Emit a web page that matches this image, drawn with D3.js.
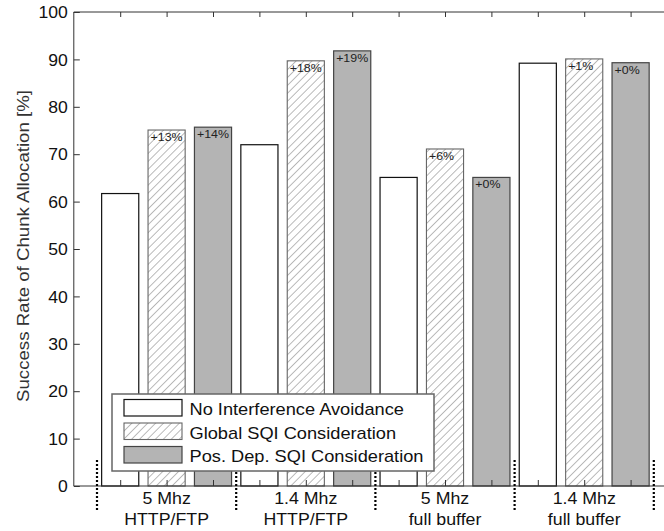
<!DOCTYPE html>
<html>
<head>
<meta charset="utf-8">
<script src="https://cdn.jsdelivr.net/npm/d3@7"></script>
<style>
  html, body { margin: 0; padding: 0; background: #fff; }
  svg { display: block; }
  text { font-family: Arial, "Liberation Sans", Helvetica, sans-serif; }
</style>
</head>
<body>
<svg id="chart" width="664" height="531"></svg>
<script>
// Scenario labels (two lines each)
const bandwidth = ["5 Mhz", "1.4 Mhz", "5 Mhz", "1.4 Mhz"];
const traffic = ["HTTP/FTP", "HTTP/FTP", "full buffer", "full buffer"];

// Allocation strategies
const seriesNames = ["No Interference Avoidance", "Global SQI Consideration", "Pos. Dep. SQI Consideration"];

// Success rate of chunk allocation [%]
const noAvoidance = [61.7, 72.0, 65.1, 89.2];
const globalSQI   = [75.1, 89.7, 71.1, 90.1];
const posDepSQI   = [75.7, 91.8, 65.1, 89.3];

// Gains printed inside the bars
const globalGain = ["+13%", "+18%", "+6%", "+1%"];
const posDepGain = ["+14%", "+19%", "+0%", "+0%"];

const yTicks = [0, 10, 20, 30, 40, 50, 60, 70, 80, 90, 100];

const svg = d3.select("#chart");

const plotLeft = 73.8, plotTop = 12, plotBottom = 486;
const x = d3.scaleLinear().domain([0, 13]).range([plotLeft, 677]);
const y = d3.scaleLinear().domain([0, 100]).range([plotBottom, plotTop]);
const barW = 0.8;

// hatch pattern
const defs = svg.append("defs");
const pat = defs.append("pattern")
  .attr("id", "hatch")
  .attr("patternUnits", "userSpaceOnUse")
  .attr("width", 5.6).attr("height", 5.6)
  .attr("patternTransform", "rotate(45)");
pat.append("rect").attr("width", 5.6).attr("height", 5.6).attr("fill", "#fff");
pat.append("line")
  .attr("x1", 0).attr("y1", 0).attr("x2", 0).attr("y2", 5.6)
  .attr("stroke", "#777").attr("stroke-width", 1);

const styles = [
  { fill: "#fff", stroke: "#111", sw: 1.2 },
  { fill: "url(#hatch)", stroke: "#666", sw: 1.1 },
  { fill: "#b4b4b4", stroke: "#444", sw: 1.2 }
];

// stretch helper for text
function place(sel, px, py, sx) {
  sel.attr("transform", `translate(${px},${py}) scale(${sx},1)`);
}

// bars
const bars = [];
[noAvoidance, globalSQI, posDepSQI].forEach((vals, s) => {
  vals.forEach((v, g) => {
    bars.push({ pos: g * 3 + s + 1, value: v, s, label: s === 1 ? globalGain[g] : s === 2 ? posDepGain[g] : null });
  });
});

const gBars = svg.append("g");
gBars.selectAll("rect").data(bars).join("rect")
  .attr("x", d => x(d.pos - barW / 2))
  .attr("y", d => y(d.value))
  .attr("width", d => x(d.pos + barW / 2) - x(d.pos - barW / 2))
  .attr("height", d => y(0) - y(d.value))
  .attr("fill", d => styles[d.s].fill)
  .attr("stroke", d => styles[d.s].stroke)
  .attr("stroke-width", d => styles[d.s].sw);

gBars.selectAll("text").data(bars.filter(d => d.label)).join("text")
  .text(d => d.label)
  .attr("font-size", 10.5)
  .attr("fill", "#222")
  .each(function (d) {
    place(d3.select(this), x(d.pos - barW / 2) + 2.5, y(d.value) + 11, 1.18);
  });

// frame
const frame = svg.append("g").attr("stroke", "#333").attr("stroke-width", 1).attr("fill", "none");
frame.append("line").attr("x1", plotLeft).attr("x2", plotLeft).attr("y1", plotTop).attr("y2", plotBottom);
frame.append("line").attr("x1", plotLeft).attr("x2", 680).attr("y1", plotTop).attr("y2", plotTop);
frame.append("line").attr("x1", plotLeft).attr("x2", 680).attr("y1", plotBottom).attr("y2", plotBottom);

// y axis with inward ticks
const yAxis = d3.axisLeft(y).tickValues(yTicks).tickSize(-6).tickPadding(6).tickSizeOuter(0);
const gy = svg.append("g").attr("transform", `translate(${plotLeft},0)`).call(yAxis);
gy.select(".domain").remove();
gy.selectAll(".tick line").attr("stroke", "#333");
gy.selectAll(".tick text").attr("font-size", 16).attr("fill", "#111")
  .attr("dy", "0.36em")
  .each(function () {
    const t = d3.select(this);
    const xx = +t.attr("x");
    t.attr("x", null);
    t.attr("transform", `translate(${xx},0) scale(1.1,1)`);
  });

// top and bottom ticks at bar positions
const positions = d3.range(1, 13);
const gTop = svg.append("g").attr("transform", `translate(0,${plotTop})`)
  .call(d3.axisTop(x).tickValues(positions).tickSize(-5).tickFormat(""));
gTop.select(".domain").remove();
gTop.selectAll(".tick line").attr("stroke", "#333");
const gBot = svg.append("g").attr("transform", `translate(0,${plotBottom})`)
  .call(d3.axisBottom(x).tickValues(positions).tickSize(-6).tickFormat(""));
gBot.select(".domain").remove();
gBot.selectAll(".tick line").attr("stroke", "#333");

// group separators
const seps = d3.range(0, 5).map(i => i * 3 + 0.5);
svg.append("g").selectAll("line").data(seps).join("line")
  .attr("x1", d => x(d)).attr("x2", d => x(d))
  .attr("y1", 460).attr("y2", 510)
  .attr("stroke", "#000").attr("stroke-width", 2.2)
  .attr("stroke-dasharray", "2,2");

// group labels
const gLab = svg.append("g").attr("fill", "#111").attr("font-size", 16).attr("text-anchor", "middle");
bandwidth.forEach((b, i) => {
  const cx = x(i * 3 + 2);
  place(gLab.append("text").text(b), cx, 504, 1.11);
  place(gLab.append("text").text(traffic[i]), cx, 525, 1.11);
});

// y label
svg.append("text")
  .text("Success Rate of Chunk Allocation [%]")
  .attr("font-size", 17)
  .attr("fill", "#333")
  .attr("text-anchor", "middle")
  .attr("textLength", 312)
  .attr("lengthAdjust", "spacingAndGlyphs")
  .attr("transform", "translate(29,246) rotate(-90)");

// legend
const lg = svg.append("g");
lg.append("rect").attr("x", 112).attr("y", 394).attr("width", 322).attr("height", 77)
  .attr("fill", "#fff").attr("stroke", "#666").attr("stroke-width", 1.5);
seriesNames.forEach((name, i) => {
  const ry = 399.5 + i * 23.5;
  lg.append("rect").attr("x", 124).attr("y", ry).attr("width", 58).attr("height", 16.5)
    .attr("fill", styles[i].fill).attr("stroke", styles[i].stroke).attr("stroke-width", styles[i].sw);
  const t = lg.append("text").text(name).attr("font-size", 16).attr("fill", "#111");
  place(t, 189.5, ry + 15.5, 1.14);
});
</script>
</body>
</html>
